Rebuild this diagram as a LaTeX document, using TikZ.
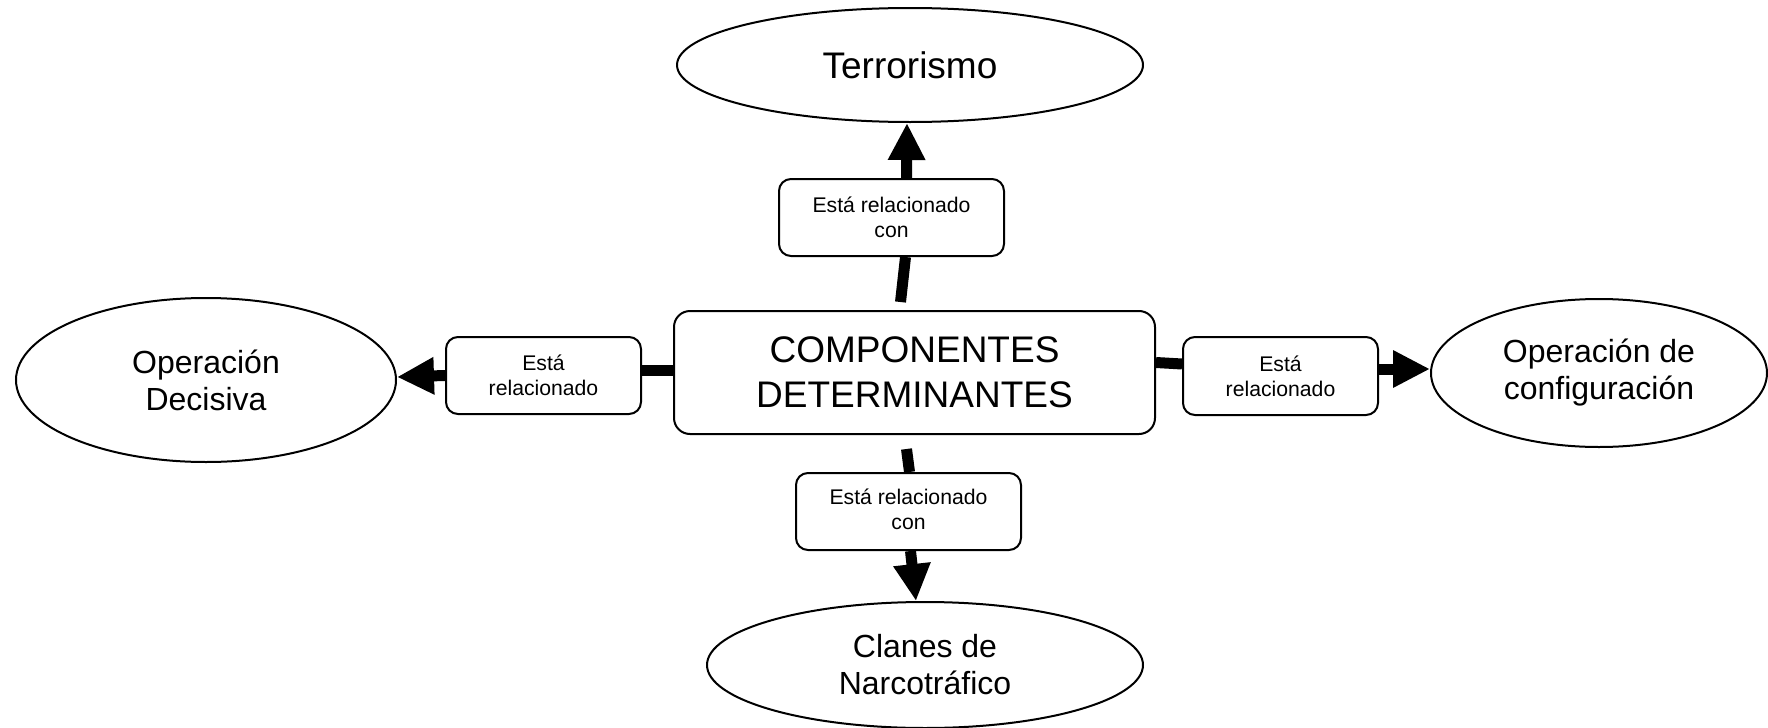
\documentclass[tikz,border=0pt]{standalone}
\usepackage{fontspec}
\setmainfont{Liberation Sans}
\usetikzlibrary{shapes.geometric,arrows.meta}

\begin{document}
\begin{tikzpicture}[x=0.5pt,y=-0.5pt,>={Triangle[width=17.5pt,length=18.5pt]},
    idea/.style={ellipse,draw,line width=1pt,inner sep=0pt,align=center,font=\fontsize{16}{18.5}\selectfont},
    comp/.style={rectangle,rounded corners=8pt,draw,line width=1pt,inner sep=0pt,align=center,font=\fontsize{18.5}{22.5}\selectfont},
    rel/.style={rectangle,rounded corners=6pt,draw,line width=1pt,inner sep=0pt,align=center,font=\fontsize{10.6}{12.5}\selectfont},
    link/.style={line width=5.5pt}]

    \useasboundingbox (0,0) rectangle (1768,728);

    \node[comp, minimum width=240.5pt, minimum height=61.5pt] (ctr) at (914.5,372.5) {COMPONENTES\\DETERMINANTES};

    \node[idea, minimum width=233pt, minimum height=57pt, font=\fontsize{18.5}{22}\selectfont] (ter) at (910,65) {Terrorismo};
    \node[idea, minimum width=190pt, minimum height=82pt] (dec) at (206,380) {Operación\\Decisiva};
    \node[idea, minimum width=168pt, minimum height=74pt] (conf) at (1599,373) {Operación de\\configuración};
    \node[idea, minimum width=218pt, minimum height=63pt] (cla) at (925,665) {Clanes de\\Narcotráfico};

    \node[rel, minimum width=112.5pt, minimum height=38.5pt] (rtop) at (891.5,217.5) {Está relacionado\\con};
    \node[rel, minimum width=97.5pt, minimum height=38.5pt] (rleft) at (543.5,375.5) {Está\\relacionado};
    \node[rel, minimum width=97.5pt, minimum height=39pt] (rright) at (1280.5,376) {Está\\relacionado};
    \node[rel, minimum width=112.5pt, minimum height=38.5pt] (rbot) at (908.5,511.5) {\raisebox{-3pt}{\begin{tabular}{@{}c@{}}Está relacionado\\con\end{tabular}}};

    % up
    \draw[link] ([xshift=-7pt,yshift=4pt]ctr.north) -- ([xshift=7pt]rtop.south);
    \draw[link,->] ([xshift=7.5pt]rtop.north) -- ([xshift=-1.5pt]ter.south);
    % left
    \draw[link] ([yshift=1pt]ctr.west) -- ([yshift=2.5pt]rleft.east);
    \draw[link,->] (rleft.west) -- ([yshift=1.5pt]dec.east);
    % right
    \draw[link] ([yshift=5pt]ctr.east) -- ([yshift=6pt]rright.west);
    \draw[link,->] ([yshift=3.5pt]rright.east) -- ([yshift=2pt]conf.west);
    % down
    \draw[link] ([xshift=-4pt,yshift=-7pt]ctr.south) -- ([xshift=0.5pt]rbot.north);
    \draw[link,->] ([xshift=1pt]rbot.south) -- ([xshift=-4.5pt]cla.north);

\end{tikzpicture}
\end{document}
